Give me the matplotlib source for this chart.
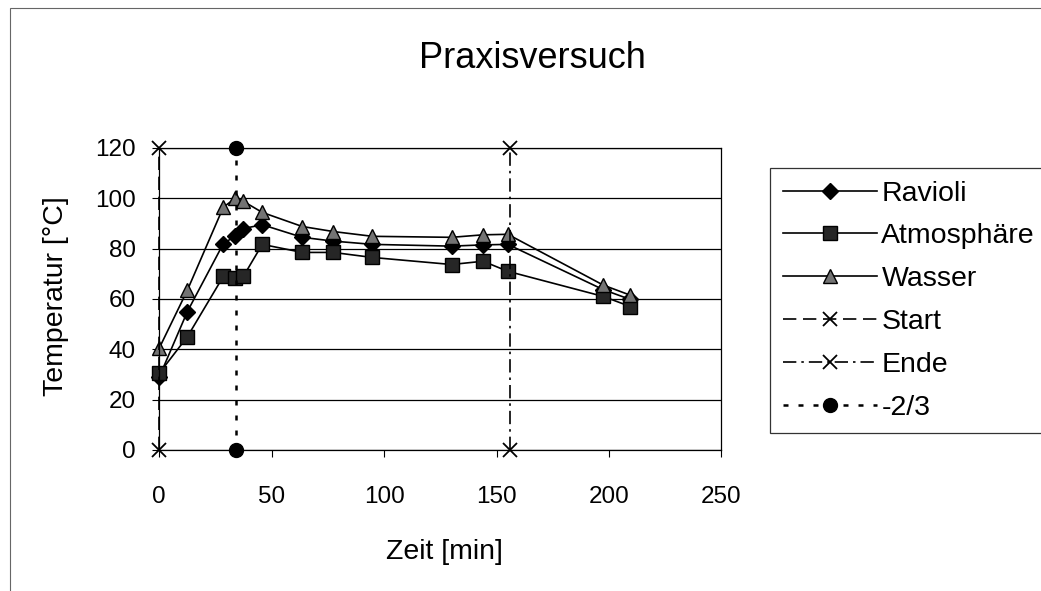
import matplotlib.pyplot as plt
from matplotlib.patches import Rectangle

plt.rcParams['font.family'] = ['Liberation Sans', 'DejaVu Sans']

# time points [min], shared by the three measured series
zeit = [0, 12.5, 28.5, 33.8, 37.4, 45.8, 63.6, 77.4, 94.8, 130, 144, 155, 197.5, 209.5]
ravioli = [29, 55, 82, 85, 88, 89.5, 84.5, 83, 81.7, 81, 81.5, 81.7, 63.7, 59.8]
atmosphaere = [30.5, 45, 69, 68.5, 69, 81.7, 78.5, 78.5, 76.5, 73.7, 75, 71, 61, 57]
wasser = [40.5, 63.5, 96.5, 100, 98.8, 94.4, 88.8, 86.8, 84.9, 84.5, 85.5, 85.7, 65.5, 61.5]

# marker lines
start_x = [0, 0]
ende_x = [156, 156]
zweidrittel_x = [34, 34]
marker_y = [0, 120]

fig = plt.figure(figsize=(10.41, 5.91), dpi=100)
ax = fig.add_axes([0.153, 0.2386, 0.540, 0.511])

ax.plot(zeit, ravioli, color='black', lw=1.2, marker='D', ms=8,
        mfc='black', mec='black', label='Ravioli')
ax.plot(zeit, atmosphaere, color='black', lw=1.2, marker='s', ms=10,
        mfc='0.15', mec='black', label='Atmosphäre')
ax.plot(zeit, wasser, color='black', lw=1.2, marker='^', ms=10,
        mfc='0.45', mec='black', label='Wasser')
ax.plot(start_x, marker_y, color='black', lw=1.2, ls=(0, (8, 4)),
        marker='x', ms=10, mew=1.3, label='Start')
ax.plot(ende_x, marker_y, color='black', lw=1.2, ls=(0, (8, 3, 1.5, 3)),
        marker='x', ms=10, mew=1.3, label='Ende')
ax.plot(zweidrittel_x, marker_y, color='black', lw=1.8, ls=(0, (2, 4)),
        marker='o', ms=10, mfc='black', mec='black', label='-2/3')

ax.set_xlim(0, 250)
ax.set_ylim(0, 120)
ax.set_xticks([0, 50, 100, 150, 200, 250])
ax.set_yticks(range(0, 121, 20))
ax.yaxis.grid(True, color='black', lw=0.9)
ax.set_axisbelow(True)
for s in ax.spines.values():
    s.set_color('black')
    s.set_linewidth(0.9)
ax.tick_params(axis='both', labelsize=17.5, length=5, direction='out')
ax.tick_params(axis='y', pad=12)
ax.tick_params(axis='x', pad=21)
for ln in ax.lines:
    ln.set_clip_on(False)

fig.text(532 / 1041, 1 - 58 / 591, 'Praxisversuch', ha='center', va='center', fontsize=26)
fig.text(444 / 1041, 1 - 552 / 591, 'Zeit [min]', ha='center', va='center', fontsize=20.5)
fig.text(56 / 1041, 1 - 296 / 591, 'Temperatur [°C]', ha='center', va='center',
         rotation=90, fontsize=20.5)

leg = fig.legend(loc='upper left', bbox_to_anchor=(0.740, 0.716), fontsize=20.5,
                 handlelength=3.3, labelspacing=0.59, handletextpad=0.15,
                 borderpad=0.45, borderaxespad=0, frameon=True, fancybox=False)
leg.get_frame().set_edgecolor('black')
leg.get_frame().set_linewidth(0.9)

# outer chart border (top and left visible like the scan)
fig.patches.append(Rectangle((0.0096, -0.02), 1.1, 1.006, transform=fig.transFigure,
                             fill=False, edgecolor='0.4', lw=0.8))

fig.savefig('out.png', dpi=100)
